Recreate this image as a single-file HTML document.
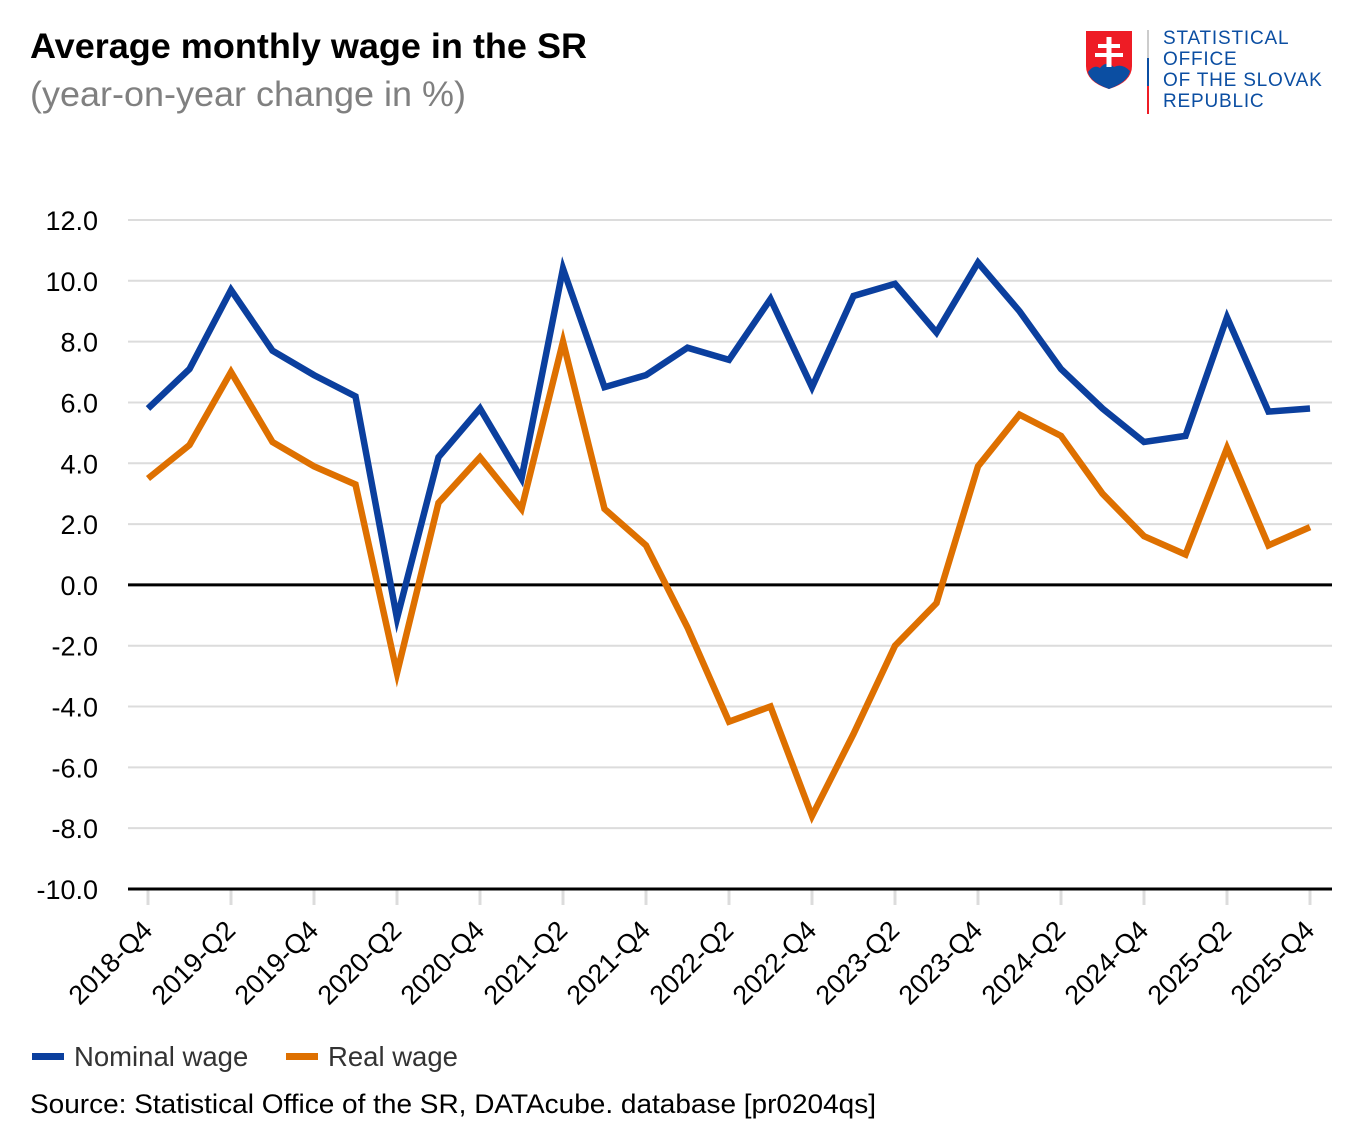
<!DOCTYPE html>
<html><head><meta charset="utf-8"><style>
html,body{margin:0;padding:0;background:#fff;}
body{width:1362px;height:1140px;overflow:hidden;font-family:"Liberation Sans",Arial,sans-serif;}
</style></head><body>
<svg id="s" width="1362" height="1140" xmlns="http://www.w3.org/2000/svg" font-family="Liberation Sans, Arial, sans-serif">
<text x="30" y="58" font-size="35" font-weight="bold" fill="#000" textLength="557" lengthAdjust="spacingAndGlyphs">Average monthly wage in the SR</text>
<text x="30" y="106" font-size="35" fill="#808080" textLength="436" lengthAdjust="spacingAndGlyphs">(year-on-year change in %)</text>
<path d="M1086 31 H1132 V66 Q1132 82 1109 89 Q1086 82 1086 66 Z" fill="#ee1c25"/>
<path d="M1088 72 Q1094 64 1100 68 Q1106 60 1114 67 Q1122 63 1130 71 Q1128 82 1109 89 Q1090 82 1088 72 Z" fill="#0b4ea2"/>
<rect x="1106.5" y="37" width="5" height="30" fill="#fff"/>
<rect x="1098" y="44" width="22" height="4" fill="#fff"/>
<rect x="1095" y="53" width="28" height="4" fill="#fff"/>
<rect x="1147" y="30" width="2" height="28" fill="#ccc"/>
<rect x="1147" y="58" width="2" height="28" fill="#0b4ea2"/>
<rect x="1147" y="86" width="2" height="28" fill="#ee1c25"/>
<g fill="#0b4ea2" font-size="19" letter-spacing="0.8">
<text x="1163" y="44">STATISTICAL</text>
<text x="1163" y="65">OFFICE</text>
<text x="1163" y="86">OF THE SLOVAK</text>
<text x="1163" y="107">REPUBLIC</text>
</g>
<g id="chart"></g>
<rect x="32" y="1053" width="32" height="7" fill="#0b3f9e"/>
<text x="74" y="1066" font-size="27.5" fill="#333">Nominal wage</text>
<rect x="286" y="1053" width="32" height="7" fill="#de7000"/>
<text x="328" y="1066" font-size="27.5" fill="#333">Real wage</text>
<text x="30" y="1113" font-size="27" fill="#000" textLength="846" lengthAdjust="spacingAndGlyphs">Source: Statistical Office of the SR, DATAcube. database [pr0204qs]</text>
</svg>
<script>
var nom=[5.8,7.1,9.7,7.7,6.9,6.2,-1.1,4.2,5.8,3.5,10.4,6.5,6.9,7.8,7.4,9.4,6.5,9.5,9.9,8.3,10.6,9.0,7.1,5.8,4.7,4.9,8.8,5.7,5.8];
var real=[3.5,4.6,7.0,4.7,3.9,3.3,-2.9,2.7,4.2,2.5,8.0,2.5,1.3,-1.4,-4.5,-4.0,-7.6,-4.9,-2.0,-0.6,3.9,5.6,4.9,3.0,1.6,1.0,4.5,1.3,1.9];
function Y(v){return 584.9-v*30.41;}
function X(i){return 148+i*41.5;}
var h='';
for(var v=12;v>=-10;v-=2){var y=Y(v);
 if(v!=0&&v!=-10)h+='<line x1="128" x2="1332" y1="'+y+'" y2="'+y+'" stroke="#dcdcdc" stroke-width="2"/>';
 h+='<text x="98" y="'+(y+10)+'" font-size="27" text-anchor="end" fill="#000">'+v.toFixed(1)+'</text>';}
var labs=['2018-Q4','2019-Q2','2019-Q4','2020-Q2','2020-Q4','2021-Q2','2021-Q4','2022-Q2','2022-Q4','2023-Q2','2023-Q4','2024-Q2','2024-Q4','2025-Q2','2025-Q4'];
for(var i=0;i<15;i++){var x=X(i*2);
 h+='<line x1="'+x+'" x2="'+x+'" y1="890" y2="905" stroke="#dcdcdc" stroke-width="3"/>';
 h+='<text transform="translate('+(x+6)+',932) rotate(-45)" font-size="27" text-anchor="end" fill="#000">'+labs[i]+'</text>';}
h+='<line x1="128" x2="1332" y1="'+Y(0)+'" y2="'+Y(0)+'" stroke="#000" stroke-width="3"/>';
h+='<line x1="128" x2="1332" y1="'+Y(-10)+'" y2="'+Y(-10)+'" stroke="#000" stroke-width="3"/>';
function p(d,c){var s='';d.forEach(function(v,i){s+=(i?'L':'M')+X(i)+' '+Y(v).toFixed(1);});
 return '<path d="'+s+'" fill="none" stroke="'+c+'" stroke-width="6.5" stroke-linejoin="miter" stroke-miterlimit="10"/>';}
h+=p(real,'#de7000')+p(nom,'#0b3f9e');
document.getElementById('chart').innerHTML=h;
</script>
</body></html>
